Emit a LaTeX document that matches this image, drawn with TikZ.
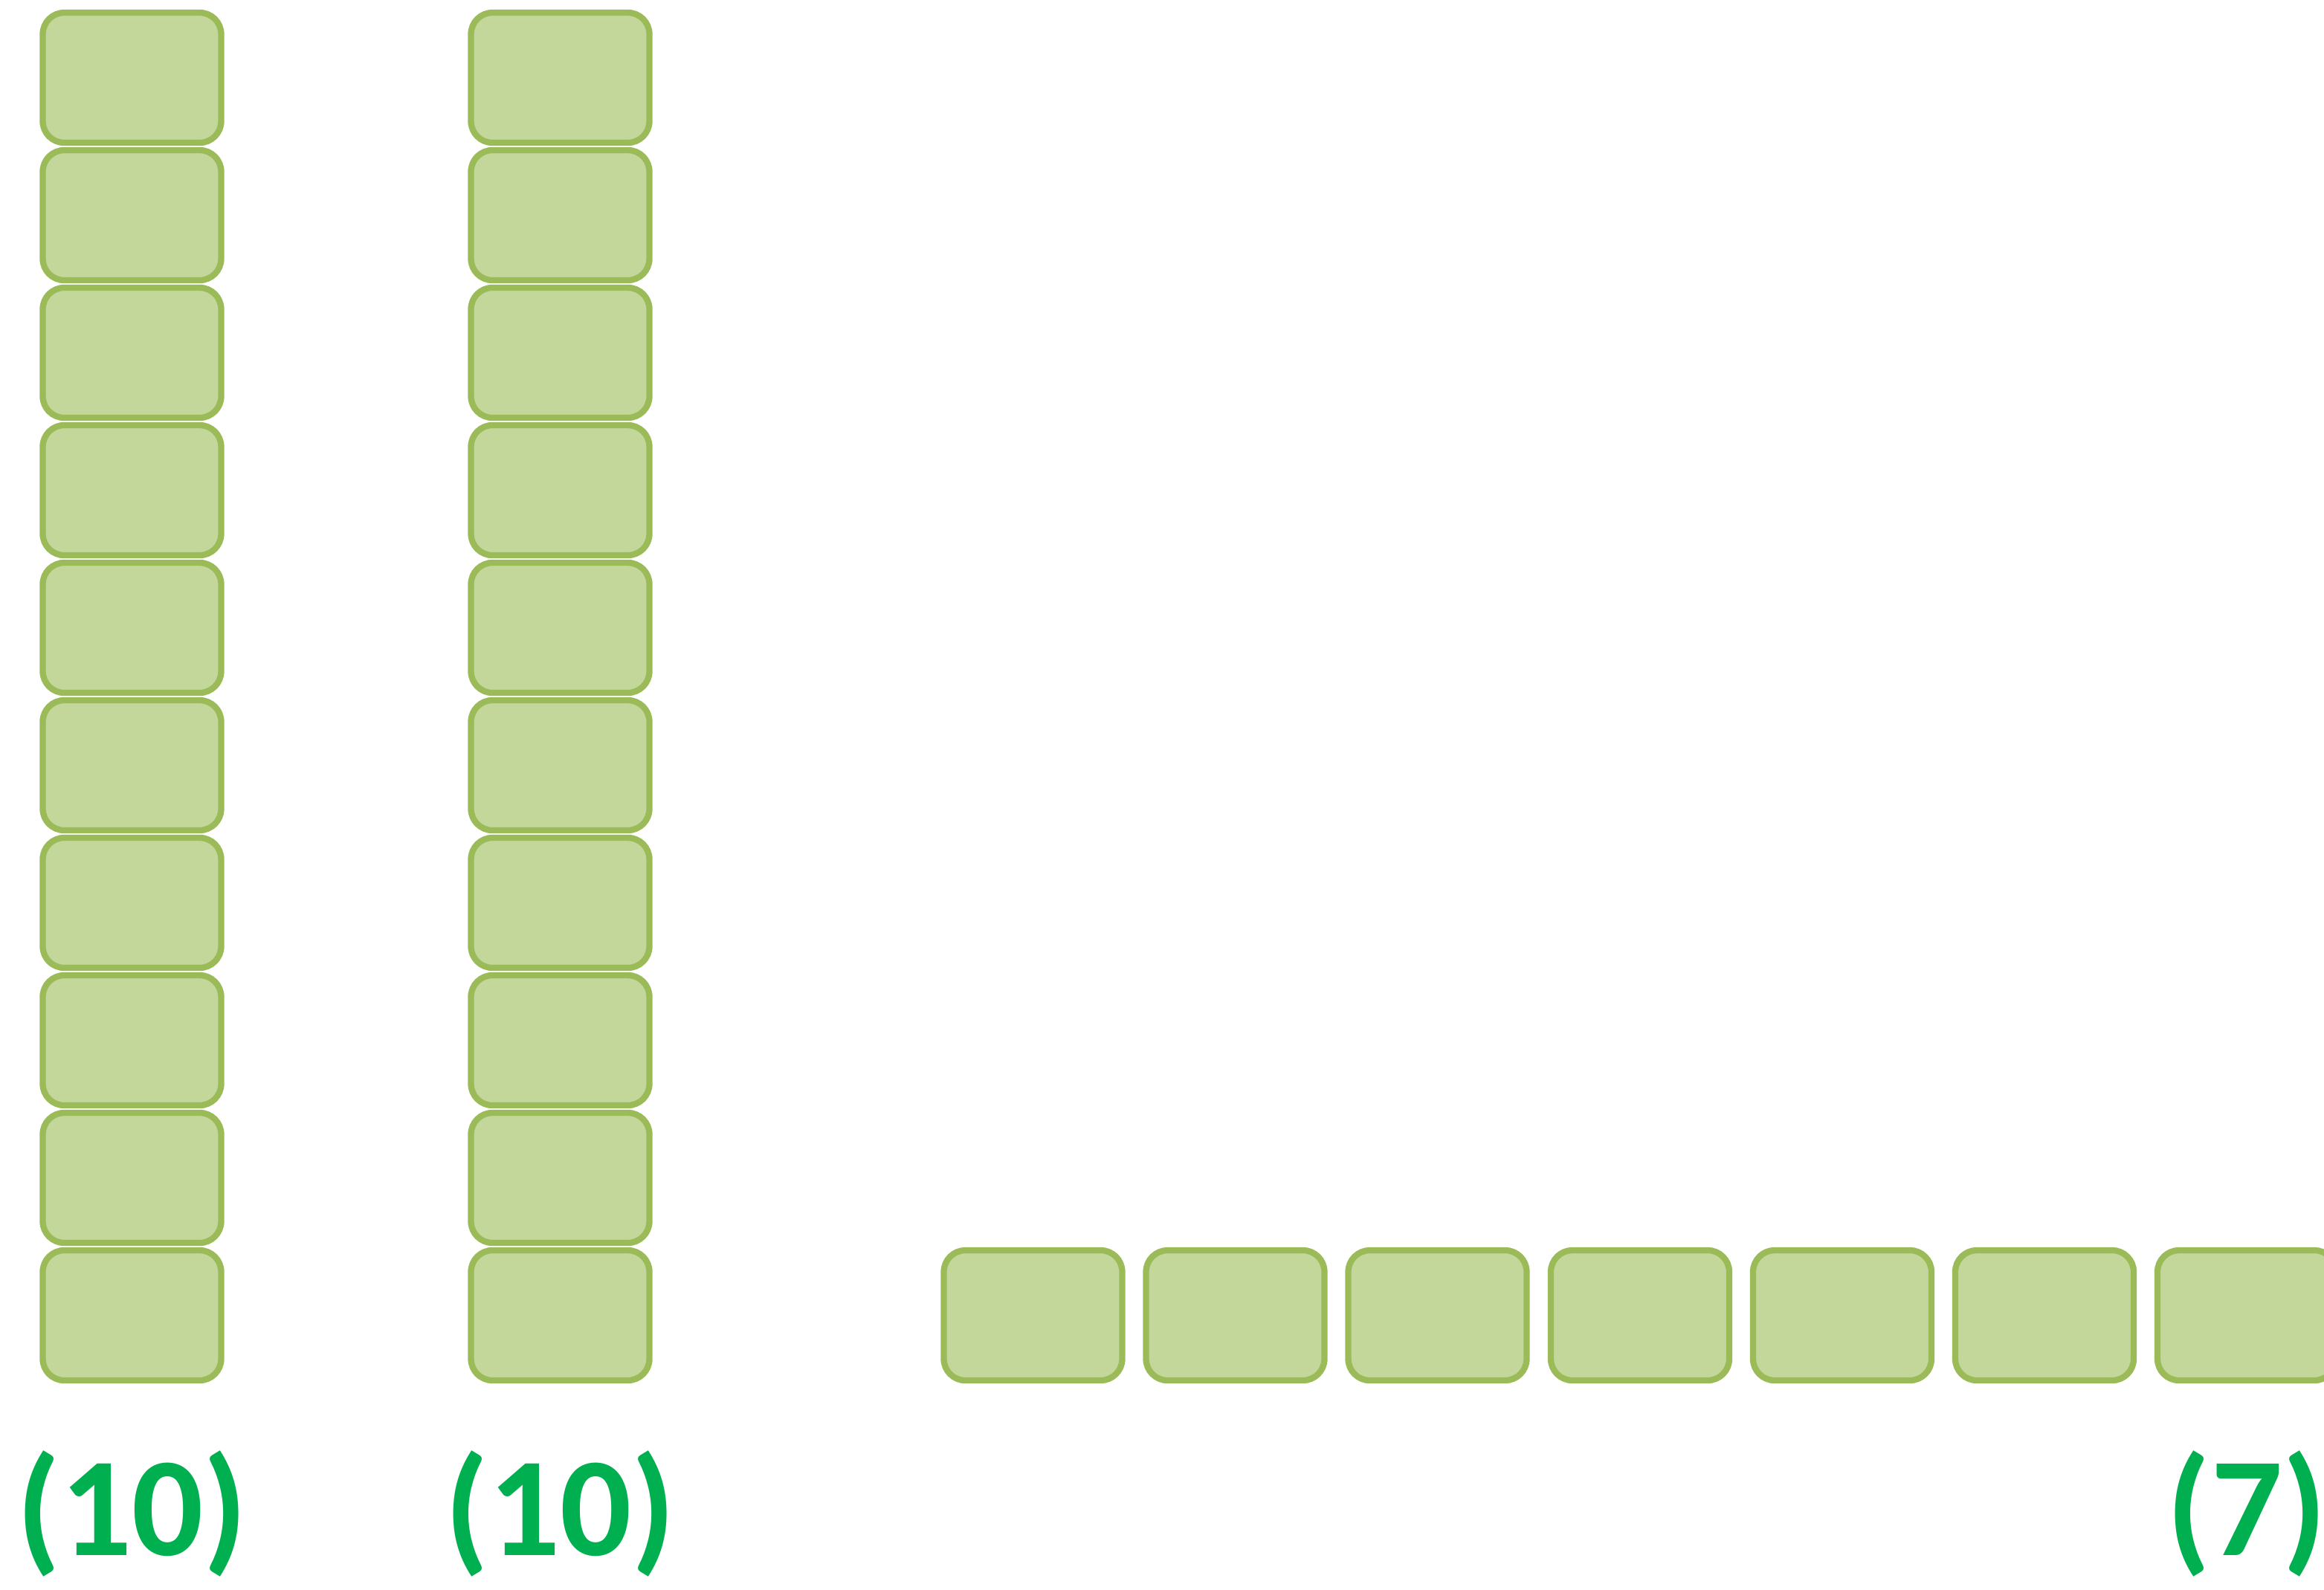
\documentclass[tikz,border=0pt]{standalone}
\usepackage{fontspec}
\setmainfont{Carlito}
\usepackage{tikz}
\definecolor{cellgreen}{HTML}{C4D79B}
\definecolor{edgegreen}{HTML}{9BBB59}
\definecolor{countgreen}{HTML}{00B050}

\begin{document}
\begin{tikzpicture}[
    cell/.style = {draw = edgegreen, fill = cellgreen, line width = 0.083cm, rounded corners = 0.29cm, minimum width = 2.4cm, minimum height = 1.75cm, inner sep = 0pt},
    count/.style = {text = countgreen, font = \fontsize{54pt}{60pt}\selectfont\bfseries, inner sep = 0pt, anchor = base}]%
    \clip (0, 0) rectangle (31.26, -21.38);

    % first column
    \node[cell] (a1) at (1.775, -1.045) {};
    \node[cell] (a2) at (1.775, -2.895) {};
    \node[cell] (a3) at (1.775, -4.745) {};
    \node[cell] (a4) at (1.775, -6.595) {};
    \node[cell] (a5) at (1.775, -8.445) {};
    \node[cell] (a6) at (1.775, -10.295) {};
    \node[cell] (a7) at (1.775, -12.145) {};
    \node[cell] (a8) at (1.775, -13.995) {};
    \node[cell] (a9) at (1.775, -15.845) {};
    \node[cell] (a10) at (1.775, -17.695) {};

    % second column
    \node[cell] (b1) at (7.535, -1.045) {};
    \node[cell] (b2) at (7.535, -2.895) {};
    \node[cell] (b3) at (7.535, -4.745) {};
    \node[cell] (b4) at (7.535, -6.595) {};
    \node[cell] (b5) at (7.535, -8.445) {};
    \node[cell] (b6) at (7.535, -10.295) {};
    \node[cell] (b7) at (7.535, -12.145) {};
    \node[cell] (b8) at (7.535, -13.995) {};
    \node[cell] (b9) at (7.535, -15.845) {};
    \node[cell] (b10) at (7.535, -17.695) {};

    % row
    \node[cell] (c1) at (13.895, -17.695) {};
    \node[cell] (c2) at (16.615, -17.695) {};
    \node[cell] (c3) at (19.335, -17.695) {};
    \node[cell] (c4) at (22.06, -17.695) {};
    \node[cell] (c5) at (24.78, -17.695) {};
    \node[cell] (c6) at (27.5, -17.695) {};
    \node[cell] (c7) at (30.22, -17.695) {};

    \node[count] (counta) at (1.775, -20.92) {(10)};
    \node[count] (countb) at (7.535, -20.92) {(10)};
    \node[count] (countc) at (30.22, -20.92) {(7)};
\end{tikzpicture}
\end{document}
